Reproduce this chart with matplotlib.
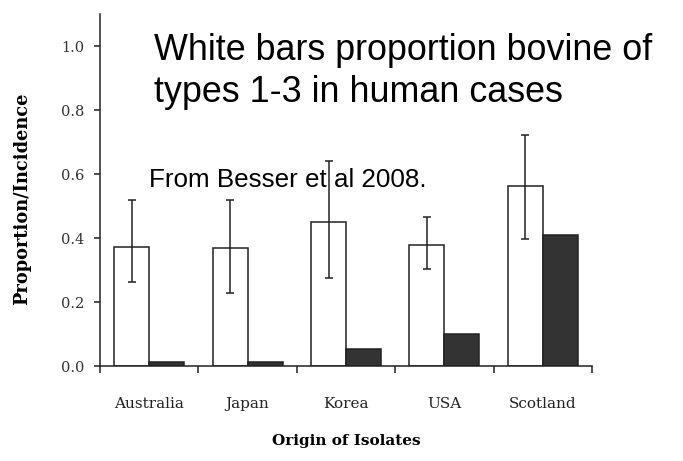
import matplotlib
matplotlib.use("Agg")
import matplotlib.pyplot as plt
import numpy as np

# ------------------------------------------------------------
# Daten
# ------------------------------------------------------------
countries = ["Australia", "Japan", "Korea", "USA", "Scotland"]
white_vals = [0.371, 0.368, 0.451, 0.379, 0.563]
err_low = [0.262, 0.228, 0.274, 0.304, 0.397]
err_high = [0.519, 0.519, 0.640, 0.467, 0.721]
dark_vals = [0.013, 0.013, 0.052, 0.101, 0.408]

W, H = 683, 461
fig = plt.figure(figsize=(W / 100, H / 100), dpi=100)
ax = fig.add_axes([100 / W, 1 - 366 / H, 492 / W, 352 / H])

x = np.arange(len(countries))
bw = 0.355
line_c = "#222222"

lower = np.array(white_vals) - np.array(err_low)
upper = np.array(err_high) - np.array(white_vals)

ax.bar(x - bw / 2, white_vals, bw, color="white", edgecolor=line_c, linewidth=1.1, zorder=2)
ax.bar(x + bw / 2, dark_vals, bw, color="#333333", edgecolor=line_c, linewidth=1.1, zorder=2)
ax.errorbar(x - bw / 2, white_vals, yerr=[lower, upper], fmt="none",
            ecolor=line_c, elinewidth=1.1, capsize=2.6, capthick=1.1, zorder=3)

ax.set_xlim(-0.5, len(countries) - 0.5)
ax.set_ylim(0, 1.1)

# Achsen
for s in ["top", "right"]:
    ax.spines[s].set_visible(False)
for s in ["left", "bottom"]:
    ax.spines[s].set_color(line_c)
    ax.spines[s].set_linewidth(1.1)

serif = "DejaVu Serif"
ax.set_yticks([0.0, 0.2, 0.4, 0.6, 0.8, 1.0])
ax.set_yticklabels(["0.0", "0.2", "0.4", "0.6", "0.8", "1.0"], family=serif, fontsize=10.5, color="#333333")
ax.tick_params(axis="y", direction="out", length=4, width=1.1, color=line_c, pad=7)

ax.set_xticks(x)
ax.set_xticklabels(countries, family=serif, fontsize=11, color="#222222")
ax.set_xticks(np.arange(len(countries) + 1) - 0.5, minor=True)
ax.tick_params(axis="x", which="major", length=0, pad=22)
ax.tick_params(axis="x", which="minor", direction="out", length=5, width=1.1, color=line_c)

ax.set_ylabel("Proportion/Incidence", family=serif, fontsize=12.8, fontweight="bold")
ax.yaxis.set_label_coords(-0.14, 0.475)
ax.set_xlabel("Origin of Isolates", family=serif, fontsize=11, fontweight="bold", labelpad=17)

# Textfelder
sans = "Liberation Sans"
fig.text(154 / W, 1 - 60 / H, "White bars proportion bovine of", family=sans, fontsize=25.8,
         va="baseline", ha="left")
fig.text(154 / W, 1 - 102 / H, "types 1-3 in human cases", family=sans, fontsize=25.8,
         va="baseline", ha="left")
fig.text(149 / W, 1 - 187 / H, "From Besser et al 2008.", family=sans, fontsize=18.7,
         va="baseline", ha="left", zorder=1)

fig.savefig("out.png", dpi=100)
